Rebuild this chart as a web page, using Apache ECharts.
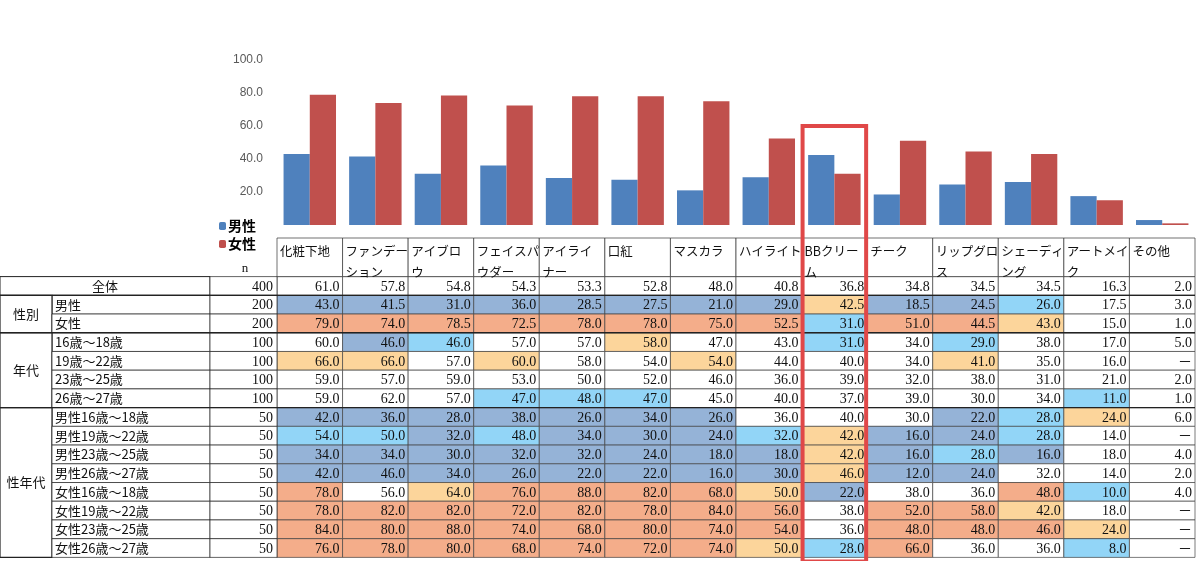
<!DOCTYPE html>
<html><head><meta charset="utf-8">
<script src="https://cdn.jsdelivr.net/npm/echarts@6/dist/echarts.min.js"></script>
<style>html,body{margin:0;padding:0;background:#fff}#c{width:1200px;height:561px}</style>
</head><body><div id="c"></div>
<script>
var categories=['化粧下地','ファンデーション','アイブロウ','フェイスパウダー','アイライナー','口紅','マスカラ','ハイライト','BBクリーム','チーク','リップグロス','シェーディング','アートメイク','その他'];
var headerLabels=['化粧下地','ファンデー\nション','アイブロ\nウ','フェイスパ\nウダー','アイライ\nナー','口紅','マスカラ','ハイライト','BBクリー\nム','チーク','リップグロ\nス','シェーディ\nング','アートメイ\nク','その他'];
var male=[43.0,41.5,31.0,36.0,28.5,27.5,21.0,29.0,42.5,18.5,24.5,26.0,17.5,3.0];
var female=[79.0,74.0,78.5,72.5,78.0,78.0,75.0,52.5,31.0,51.0,44.5,43.0,15.0,1.0];
var rowLabels=['全体','男性','女性','16歳～18歳','19歳～22歳','23歳～25歳','26歳～27歳','男性16歳～18歳','男性19歳～22歳','男性23歳～25歳','男性26歳～27歳','女性16歳～18歳','女性19歳～22歳','女性23歳～25歳','女性26歳～27歳'];
var rowN=[400,200,200,100,100,100,100,50,50,50,50,50,50,50,50];
var groups=[['',0,0],['性別',1,2],['年代',3,6],['性年代',7,14]];
var tableValues=[
[61.0,57.8,54.8,54.3,53.3,52.8,48.0,40.8,36.8,34.8,34.5,34.5,16.3,2.0],
[43.0,41.5,31.0,36.0,28.5,27.5,21.0,29.0,42.5,18.5,24.5,26.0,17.5,3.0],
[79.0,74.0,78.5,72.5,78.0,78.0,75.0,52.5,31.0,51.0,44.5,43.0,15.0,1.0],
[60.0,46.0,46.0,57.0,57.0,58.0,47.0,43.0,31.0,34.0,29.0,38.0,17.0,5.0],
[66.0,66.0,57.0,60.0,58.0,54.0,54.0,44.0,40.0,34.0,41.0,35.0,16.0,null],
[59.0,57.0,59.0,53.0,50.0,52.0,46.0,36.0,39.0,32.0,38.0,31.0,21.0,2.0],
[59.0,62.0,57.0,47.0,48.0,47.0,45.0,40.0,37.0,39.0,30.0,34.0,11.0,1.0],
[42.0,36.0,28.0,38.0,26.0,34.0,26.0,36.0,40.0,30.0,22.0,28.0,24.0,6.0],
[54.0,50.0,32.0,48.0,34.0,30.0,24.0,32.0,42.0,16.0,24.0,28.0,14.0,null],
[34.0,34.0,30.0,32.0,32.0,24.0,18.0,18.0,42.0,16.0,28.0,16.0,18.0,4.0],
[42.0,46.0,34.0,26.0,22.0,22.0,16.0,30.0,46.0,12.0,24.0,32.0,14.0,2.0],
[78.0,56.0,64.0,76.0,88.0,82.0,68.0,50.0,22.0,38.0,36.0,48.0,10.0,4.0],
[78.0,82.0,82.0,72.0,82.0,78.0,84.0,56.0,38.0,52.0,58.0,42.0,18.0,null],
[84.0,80.0,88.0,74.0,68.0,80.0,74.0,54.0,36.0,48.0,48.0,46.0,24.0,null],
[76.0,78.0,80.0,68.0,74.0,72.0,74.0,50.0,28.0,66.0,36.0,36.0,8.0,null]];
var cellClass=[
[0,0,0,0,0,0,0,0,0,0,0,0,0,0],
[1,1,1,1,1,1,1,1,3,1,1,2,0,0],
[4,4,4,4,4,4,4,4,2,4,4,3,0,0],
[0,1,2,0,0,3,0,0,2,0,2,0,0,0],
[3,3,0,3,0,0,3,0,0,0,3,0,0,0],
[0,0,0,0,0,0,0,0,0,0,0,0,0,0],
[0,0,0,2,2,2,0,0,0,0,0,0,2,0],
[1,1,1,1,1,1,1,0,0,0,1,2,3,0],
[2,2,1,2,1,1,1,2,3,1,1,2,0,0],
[1,1,1,1,1,1,1,1,3,1,2,1,0,0],
[1,1,1,1,1,1,1,1,3,1,1,0,0,0],
[4,0,3,4,4,4,4,3,1,0,0,4,2,0],
[4,4,4,4,4,4,4,4,0,4,4,3,0,0],
[4,4,4,4,4,4,4,4,0,4,4,4,3,0],
[4,4,4,4,4,4,4,3,2,4,0,0,2,0]];
var highlightIndex=8;

var fills=['#ffffff','#95b3d7','#92d5f7','#fcd59b','#f4ad8a'];
var FONT="'Liberation Serif','Noto Sans CJK JP',serif";
var JFONT="'Noto Sans CJK JP',sans-serif";
var L=277,W=918,TT=276.6,RH=18.72,HT=238;
var rowAxis=rowLabels.map(function(_,i){return i;});
var cells=[];
tableValues.forEach(function(r,ri){r.forEach(function(v,ci){cells.push([ci,ri,v,cellClass[ri][ci]]);});});
var rowsData=rowLabels.map(function(_,i){return [0,i];});
var headData=headerLabels.map(function(_,i){return [i,0];});

var chart=echarts.init(document.getElementById('c'));
chart.setOption({
 animation:false,
 legend:{data:['男性','女性'],orient:'vertical',left:214,top:214,itemWidth:7,itemHeight:8,itemGap:4,
   textStyle:{fontFamily:JFONT,fontSize:14,fontWeight:'bold',color:'#000',padding:[0,0,0,-3]}},
 grid:[{left:L,width:W,top:60,height:165},{left:L,width:W,top:TT,height:RH*15}],
 xAxis:[{type:'category',data:categories,gridIndex:0,show:false},
        {type:'category',data:categories,gridIndex:1,show:false}],
 yAxis:[{type:'value',gridIndex:0,min:0,max:100,interval:20,splitLine:{show:false},axisLine:{show:false},axisTick:{show:false},
         axisLabel:{formatter:function(v){return v===0?'':v.toFixed(1);},color:'#595959',fontSize:12,fontFamily:"'Liberation Sans',sans-serif",margin:14}},
        {type:'category',gridIndex:1,data:rowAxis,inverse:true,show:false}],
 series:[
  {name:'男性',type:'bar',data:male,itemStyle:{color:'#4f81bd'},barGap:'0%',barCategoryGap:'20%'},
  {name:'女性',type:'bar',data:female,itemStyle:{color:'#c0504d'}},
  {type:'custom',xAxisIndex:1,yAxisIndex:1,data:cells,z:3,
   renderItem:function(p,api){
     var c=api.coord([api.value(0),api.value(1)]),s=api.size([1,1]);
     var v=api.value(2),cls=api.value(3);
     var x=c[0]-s[0]/2,y=c[1]-s[1]/2;
     return {type:'group',children:[
       {type:'rect',shape:{x:x,y:y,width:s[0],height:s[1]},style:{fill:fills[cls],stroke:'#444',lineWidth:0.7}},
       {type:'text',style:{text:(v==null||isNaN(v))?'－':v.toFixed(1),x:x+s[0]-3,y:c[1]+1,align:'right',verticalAlign:'middle',
         font:'14px '+FONT,fill:'#111'}}]};
   }},
  {type:'custom',xAxisIndex:1,yAxisIndex:1,data:rowsData,z:3,
   renderItem:function(p,api){
     var i=api.value(1),c=api.coord([0,i]),s=api.size([1,1]);
     var y=c[1]-s[1]/2,ch=[];
     if(i===0){
       ch.push({type:'rect',shape:{x:0,y:y,width:210,height:s[1]},style:{fill:'#fff',stroke:'#222',lineWidth:1}});
       ch.push({type:'text',style:{text:rowLabels[i],x:105,y:c[1],align:'center',verticalAlign:'middle',font:'13px '+JFONT,fill:'#111'}});
     } else {
       ch.push({type:'rect',shape:{x:52,y:y,width:158,height:s[1]},style:{fill:'#fff',stroke:'#222',lineWidth:0.7}});
       ch.push({type:'text',style:{text:rowLabels[i],x:55,y:c[1],align:'left',verticalAlign:'middle',font:'13px '+JFONT,fill:'#111'}});
     }
     ch.push({type:'rect',shape:{x:210,y:y,width:L-210,height:s[1]},style:{fill:'#fff',stroke:'#222',lineWidth:0.7}});
     ch.push({type:'text',style:{text:String(rowN[i]),x:L-4,y:c[1]+1,align:'right',verticalAlign:'middle',font:'14px '+FONT,fill:'#111'}});
     groups.forEach(function(g){
       if(g[0]&&g[1]===i){
         var y2=api.coord([0,g[2]])[1]+s[1]/2;
         ch.push({type:'rect',shape:{x:0,y:y,width:52,height:y2-y},style:{fill:'#fff',stroke:'#222',lineWidth:1.2}});
         ch.push({type:'text',style:{text:g[0],x:26,y:(y+y2)/2,align:'center',verticalAlign:'middle',font:'13px '+JFONT,fill:'#111'}});
         ch.push({type:'line',shape:{x1:0,y1:y,x2:L+W,y2:y},style:{stroke:'#222',lineWidth:1.3},z2:10});
       }
     });
     return {type:'group',children:ch};
   }},
  {type:'custom',xAxisIndex:1,yAxisIndex:1,data:headData,z:3,
   renderItem:function(p,api){
     var i=api.value(0),c=api.coord([i,0]),s=api.size([1,1]);
     var x=c[0]-s[0]/2,y2=c[1]-s[1]/2;
     var ch=[{type:'rect',shape:{x:x,y:HT,width:s[0],height:y2-HT},style:{fill:'#fff',stroke:'#333',lineWidth:0.7}},
       {type:'text',style:{text:headerLabels[i],x:x+3,y:HT+3,align:'left',verticalAlign:'top',lineHeight:21,font:'12.5px '+JFONT,fill:'#111'}}];
     if(i===0){ch.push({type:'text',style:{text:'n',x:245,y:HT+31,align:'center',verticalAlign:'middle',font:'13px '+FONT,fill:'#111'}});}
     if(i===highlightIndex){
       var yb=api.coord([i,rowLabels.length-1])[1]+s[1]/2;
       ch.push({type:'rect',shape:{x:x+1,y:126,width:s[0]-2,height:yb-126+4},style:{fill:'none',stroke:'#e04848',lineWidth:4},z2:20});
     }
     return {type:'group',children:ch};
   }}
 ]
});
</script></body></html>
